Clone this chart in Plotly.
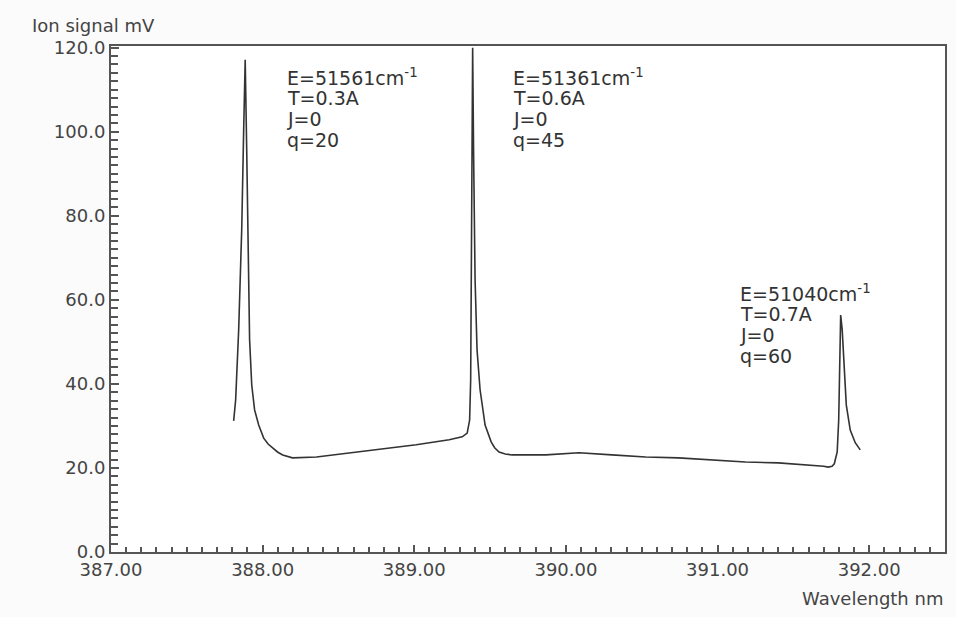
import plotly.graph_objects as go

# wavelength, nm  /  ion signal, mV
wavelength = [
    387.809, 387.822, 387.842, 387.862, 387.875, 387.885,
    387.895, 387.905, 387.914, 387.928, 387.947, 387.974, 388.007,
    388.036, 388.066, 388.098, 388.132, 388.197, 388.355, 388.572,
    388.789, 389.013, 389.230, 389.316, 389.349, 389.365, 389.372,
    389.375, 389.378, 389.382, 389.385,
    389.391, 389.401, 389.414, 389.434, 389.467, 389.507, 389.530,
    389.559, 389.600, 389.645, 389.868, 390.086, 390.303, 390.526,
    390.743, 390.961, 391.184, 391.401, 391.618, 391.700, 391.730,
    391.755, 391.770, 391.789, 391.799, 391.806, 391.812,
    391.822, 391.836, 391.849, 391.875, 391.908, 391.941,
]
signal = [
    31.2, 36.2, 52.9, 76.7, 100.5, 117.1,
    95.7, 69.5, 50.5, 39.8, 33.8, 30.2, 27.1,
    25.7, 24.8, 23.8, 23.1, 22.4, 22.6, 23.6,
    24.5, 25.5, 26.7, 27.4, 28.3, 31.4, 41.0,
    60.0, 83.8, 102.9, 120.0,
    95.7, 64.8, 48.1, 38.6, 30.2, 26.2, 24.8,
    23.8, 23.3, 23.1, 23.1, 23.6, 23.1, 22.6,
    22.4, 21.9, 21.4, 21.2, 20.7, 20.4, 20.2,
    20.4, 21.0, 23.8, 31.4, 43.3, 56.4,
    52.9, 43.3, 35.0, 29.0, 26.0, 24.3,
]

x_ticks = [387, 388, 389, 390, 391, 392]
y_ticks = [0, 20, 40, 60, 80, 100, 120]

# peak labels: (x of left edge, y of first line, lines)
peak_labels = [
    (388.145, 113.1, ["E=51561cm<sup>-1</sup>", "T=0.3A", "J=0", "q=20"]),
    (389.638, 113.1, ["E=51361cm<sup>-1</sup>", "T=0.6A", "J=0", "q=45"]),
    (391.138, 61.7, ["E=51040cm<sup>-1</sup>", "T=0.7A", "J=0", "q=60"]),
]
line_step = 5.0  # mV between text lines

ink = "#333333"
font = "DejaVu Sans"

fig = go.Figure()
fig.add_trace(go.Scatter(
    x=wavelength, y=signal, mode="lines",
    line=dict(color=ink, width=1.6),
    hoverinfo="skip", showlegend=False,
))

for x0, y0, lines in peak_labels:
    for i, txt in enumerate(lines):
        fig.add_annotation(
            x=x0, y=y0 - i * line_step, text=txt,
            xanchor="left", yanchor="middle", showarrow=False,
            font=dict(family=font, size=19, color=ink),
        )

fig.add_annotation(
    xref="paper", yref="paper", x=-0.097, y=1.0415,
    text="Ion signal mV", showarrow=False,
    xanchor="left", yanchor="middle",
    font=dict(family=font, size=18, color="#444"),
)
fig.add_annotation(
    xref="paper", yref="paper", x=1.0, y=-0.091,
    text="Wavelength nm", showarrow=False,
    xanchor="right", yanchor="middle",
    font=dict(family=font, size=18, color="#444"),
)

axis_common = dict(
    showline=True, linecolor="#555", linewidth=2, mirror=True,
    showgrid=False, zeroline=False, ticks="inside",
    tickcolor="#555", tickwidth=1.5,
    tickfont=dict(family=font, size=18, color="#444"),
)

fig.update_xaxes(
    range=[387, 392.5], tickvals=x_ticks, tickformat=".2f", ticklen=7,
    minor=dict(dtick=0.1, ticks="inside", ticklen=5, tickcolor="#555"),
    **axis_common,
)
fig.update_yaxes(
    range=[0, 120.4], tickvals=y_ticks, tickformat=".1f", ticklen=8,
    minor=dict(dtick=2, ticks="inside", ticklen=7, tickcolor="#555"),
    **axis_common,
)

fig.update_layout(
    width=956, height=617,
    margin=dict(l=111, r=9, t=46, b=65),
    paper_bgcolor="#fbfbfb",
    plot_bgcolor="white",
    font=dict(family=font, color=ink),
)

# the page's default body margin would shift the chart by 8px
fig.write_html(
    "out.html",
    config={"displayModeBar": False},
    post_script="document.body.style.margin='0';",
)
